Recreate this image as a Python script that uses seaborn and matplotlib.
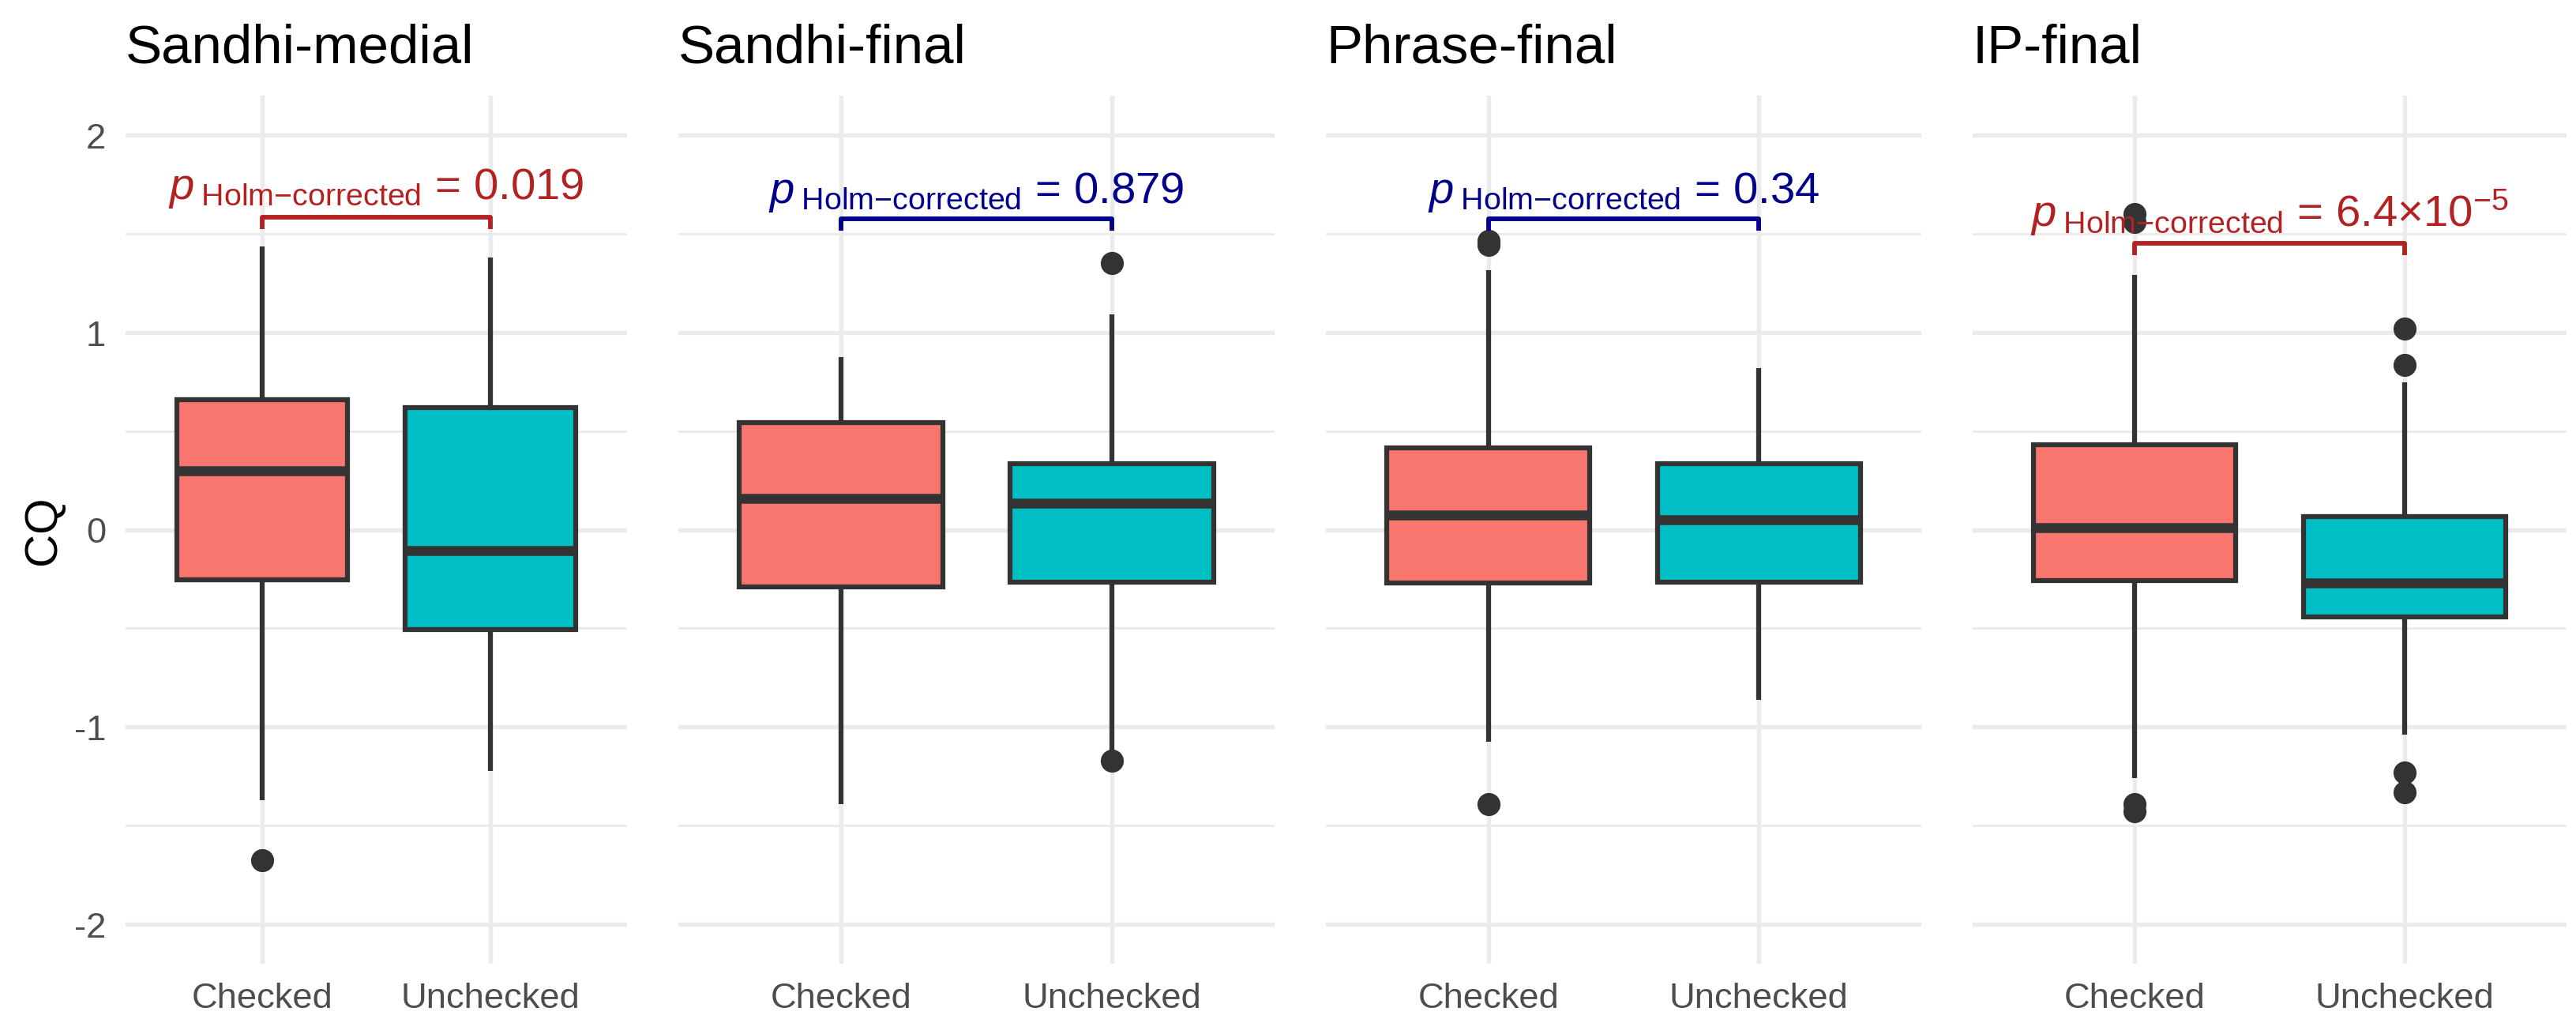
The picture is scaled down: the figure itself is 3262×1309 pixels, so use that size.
import matplotlib
import matplotlib.pyplot as plt
import pandas as pd
import seaborn as sns
from matplotlib.ticker import FixedLocator

matplotlib.use("Agg")

# --- data (CQ box summaries per panel / group) ---
PANELS = ["Sandhi-medial", "Sandhi-final", "Phrase-final", "IP-final"]
GROUPS = ["Checked", "Unchecked"]

Q1 = [[-0.254, -0.506], [-0.291, -0.265], [-0.270, -0.265], [-0.260, -0.443]]
MEDIAN = [[0.297, -0.106], [0.158, 0.133], [0.075, 0.052], [0.012, -0.270]]
Q3 = [[0.660, 0.617], [0.541, 0.335], [0.415, 0.336], [0.432, 0.066]]
WHISKER_LO = [[-1.373, -1.225], [-1.393, -1.150], [-1.073, -0.863], [-1.260, -1.037]]
WHISKER_HI = [[1.434, 1.378], [0.875, 1.092], [1.316, 0.820], [1.290, 0.748]]
OUTLIERS = [
    [[-1.676], []],
    [[], [1.353, -1.170]],
    [[1.465, 1.445, -1.393], []],
    [[1.600, 1.560, -1.392, -1.428], [1.020, 0.836, -1.233, -1.332]],
]

P_LABELS = ["0.019", "0.879", "0.34", r"6.4×10$^{-5}$"]
P_COLORS = ["#B22222", "#00008B", "#00008B", "#B22222"]
BRACKET_Y = [1.585, 1.577, 1.577, 1.450]
TEXT_Y = [1.678, 1.661, 1.661, 1.540]

FILL = {"Checked": "#F8766D", "Unchecked": "#00BFC4"}
DARK = "#333333"
GRID = "#EBEBEB"

W, H, DPI = 3262, 1310, 300


def build_frame():
    rows = []
    for p, panel in enumerate(PANELS):
        for g, grp in enumerate(GROUPS):
            core = [WHISKER_LO[p][g]] + [Q1[p][g]] * 3 + [MEDIAN[p][g]] * 3 \
                + [Q3[p][g]] * 3 + [WHISKER_HI[p][g]]
            for v in core + OUTLIERS[p][g]:
                rows.append({"panel": panel, "status": grp, "CQ": v})
    return pd.DataFrame(rows)


df = build_frame()

sns.set_theme(style="whitegrid")
plt.rcParams["font.family"] = ["Liberation Sans", "DejaVu Sans"]
plt.rcParams["mathtext.fontset"] = "custom"
plt.rcParams["mathtext.rm"] = "Liberation Sans"
plt.rcParams["mathtext.it"] = "Liberation Sans:italic"

fig = plt.figure(figsize=(W / DPI, H / DPI), dpi=DPI)
fig.patch.set_facecolor("white")

# axes boxes in pixels: (left, right)
AX_X = [(159, 794), (859, 1614), (1679, 2433), (2498, 3250)]
TOP, BOTTOM = 122, 1221

for i, panel in enumerate(PANELS):
    x0, x1 = AX_X[i]
    ax = fig.add_axes([x0 / W, (H - BOTTOM) / H, (x1 - x0) / W, (BOTTOM - TOP) / H])
    ax.set_facecolor("white")
    sub = df[df["panel"] == panel]

    sns.boxplot(
        data=sub, x="status", y="CQ", hue="status", order=GROUPS,
        hue_order=GROUPS, palette=FILL, saturation=1, width=0.75,
        linecolor=DARK, linewidth=1.5, fliersize=6, legend=False,
        showcaps=False, ax=ax,
        flierprops=dict(marker="o", markerfacecolor=DARK, markeredgecolor=DARK,
                        markersize=6),
        medianprops=dict(linewidth=3.0, color=DARK),
        whiskerprops=dict(linewidth=1.5, color=DARK),
    )

    ax.set_xlim(-0.6, 1.6)
    ax.set_ylim(-2.2, 2.2)
    ax.yaxis.set_major_locator(FixedLocator([-2, -1, 0, 1, 2]))
    ax.yaxis.set_minor_locator(FixedLocator([-1.5, -0.5, 0.5, 1.5]))
    ax.grid(which="major", color=GRID, linewidth=1.3)
    ax.grid(which="minor", axis="y", color=GRID, linewidth=0.7)
    ax.set_axisbelow(True)
    for s in ax.spines.values():
        s.set_visible(False)
    ax.tick_params(which="both", length=0)
    ax.tick_params(axis="x", pad=5.5, labelsize=10.9, labelcolor="#4D4D4D")
    ax.set_xlabel("")

    if i == 0:
        ax.set_yticklabels(["-2", "-1", "0", "1", "2"])
        ax.tick_params(axis="y", pad=6, labelsize=10.9, labelcolor="#4D4D4D")
        ax.set_ylabel("CQ", fontsize=14, color="black")
        ax.yaxis.set_label_coords(-0.122, 0.5)
    else:
        ax.set_yticklabels([])
        ax.set_ylabel("")

    ax.set_title(panel, loc="left", fontsize=16.6, pad=10.3, color="black")

    # significance bracket
    col = P_COLORS[i]
    tick = 0.06
    yb = BRACKET_Y[i]
    ax.plot([0, 0, 1, 1], [yb - tick, yb, yb, yb - tick], color=col,
            linewidth=1.4, solid_capstyle="butt", zorder=5)
    ax.text(0.5, TEXT_Y[i], r"$p_{\;\text{Holm−corrected}}$ = " + P_LABELS[i],
            ha="center", va="baseline", color=col, fontsize=13.5, zorder=6)

fig.savefig("out.png", dpi=DPI, facecolor="white")
